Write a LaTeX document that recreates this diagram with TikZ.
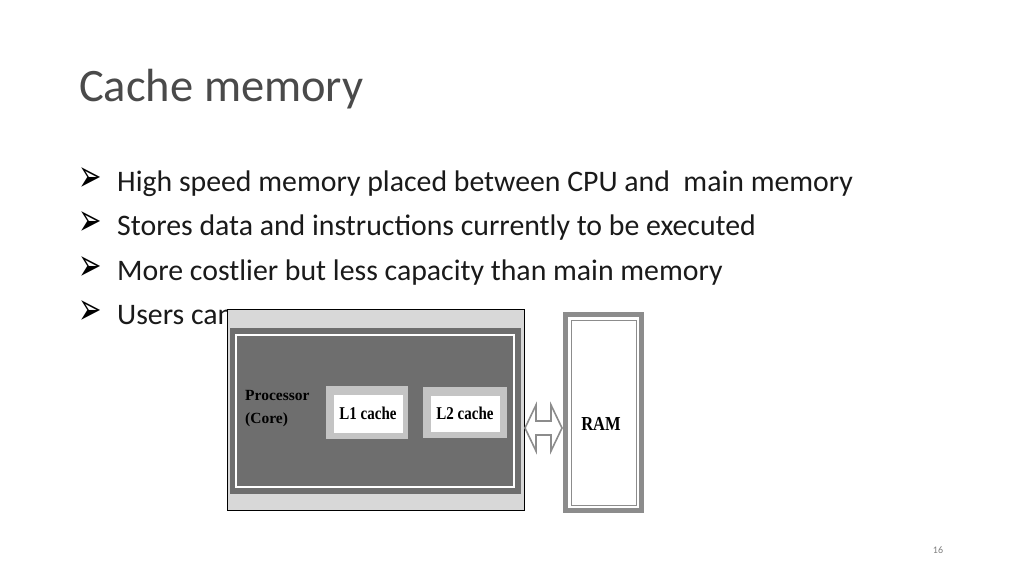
\documentclass[tikz,border=0pt]{standalone}
\usepackage{fontspec}
\setmainfont{Carlito}
\newfontfamily\symfont{DejaVu Sans}
\newfontfamily\figfont{Liberation Serif}
\usetikzlibrary{calc}
\definecolor{titlegray}{HTML}{4A4A4A}
\definecolor{textblack}{HTML}{1A1A1A}
\definecolor{coregray}{HTML}{6E6E6E}
\definecolor{bordergray}{HTML}{8C8C8C}
\definecolor{panelgray}{HTML}{D8D8D8}
\definecolor{cachegray}{HTML}{C4C4C4}
\tikzset{
  bullet/.style={anchor=base west, inner sep=0pt, font=\fontsize{29.8}{34}\selectfont, text=textblack},
  figtext/.style={font=\figfont\bfseries\fontsize{15}{16}\selectfont, text=black, inner sep=0pt},
  cachebox/.style={fill=cachegray, draw=none},
}
\begin{document}
\begin{tikzpicture}[x=1pt,y=-1pt]
			\useasboundingbox[fill=white] (0,0) rectangle (1024,576);
			%title
			\node[anchor=base west, inner sep=0pt, font=\fontsize{46.5}{52}\selectfont, text=titlegray] (title) at (79,101) {Cache memory};
			%bullets
			\foreach \y/\txt [count=\i] in {191/High speed memory placed between CPU and\ \ main memory,
			                                235/Stores data and instructions currently to be executed,
			                                280/More costlier but less capacity than main memory,
			                                324/Users can}{
				\node[anchor=base west, inner sep=0pt, font=\symfont\fontsize{28}{30}\selectfont, text=black] (mark\i) at (78,\y) {\scalebox{1}[1.6]{➢}};
				\node[bullet] (item\i) at (117,\y) {\txt};
			}
			%processor panel
			\draw[fill=panelgray, draw=black, line width=1pt] (227,309) rectangle (524,510);
			\fill[coregray] (230,328) rectangle (521,494);
			\draw[white, line width=1.2pt] (236,335) rectangle (514,487);
			\coordinate (cpuport) at (524,428);
			\node[figtext, align=left, anchor=west, font=\figfont\bfseries\fontsize{15.5}{23}\selectfont] (core) at (245,409) {Processor\\(Core)};
			%caches
			\fill[cachebox] (326,386) rectangle (408,439);
			\draw[fill=white, draw=cachegray, line width=0.8pt] (333,394) rectangle (403,433);
			\node[figtext] (lone) at (368,413) {\scalebox{1}[1.2]{L1 cache}};
			\fill[cachebox] (423,387) rectangle (507,438);
			\draw[fill=white, draw=cachegray, line width=0.8pt] (430,395) rectangle (500,432);
			\node[figtext] (ltwo) at (465,413) {\scalebox{1}[1.2]{L2 cache}};
			%RAM
			\draw[draw=bordergray, line width=5pt, fill=white] (565.5,314.5) rectangle (641.5,510.5);
			\draw[draw=bordergray, line width=0.8pt] (571,320) rectangle (636,505);
			\coordinate (ramport) at (563,428);
			\node[figtext, font=\figfont\bfseries\fontsize{16.5}{18}\selectfont] (ram) at (601,424) {\scalebox{1}[1.2]{RAM}};
			%bus
			\draw[bordergray, fill=white, line width=1.6pt, line join=miter]
			  ($(cpuport)+(1,0)$) -- ++(11,-23) -- ++(0,16) -- ($(ramport)+(-12,-7)$) -- ++(0,-16) -- ($(ramport)+(-1,0)$)
			  -- ++(-11,23) -- ++(0,-16) -- ($(cpuport)+(12,7)$) -- ++(0,16) -- cycle;
			%page number
			\node[anchor=base, inner sep=0pt, font=\fontsize{10}{12}\selectfont, text=gray] (page) at (938,553) {16};
		\end{tikzpicture}
\end{document}
